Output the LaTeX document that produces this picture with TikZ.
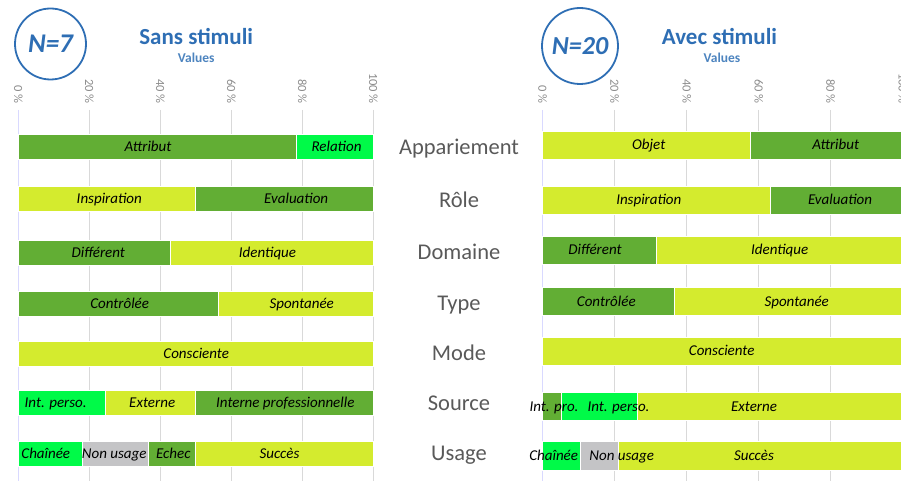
\documentclass[tikz,border=0pt]{standalone}
\usepackage{fontspec}
\setmainfont{Carlito}
\usepackage{tikz}
\usepackage{xcolor}
\definecolor{dkgreen}{RGB}{98,174,52}
\definecolor{lime}{RGB}{212,235,46}
\definecolor{brgreen}{RGB}{0,250,72}
\definecolor{nogrey}{RGB}{196,196,198}
\definecolor{titleblue}{RGB}{46,110,180}
\definecolor{gridgrey}{RGB}{217,217,217}
\definecolor{labelgrey}{RGB}{89,89,89}

\begin{document}
\begin{tikzpicture}[x=1pt,y=-1pt]
  \tikzset{grid/.style={gridgrey,line width=1.3pt}}
  \tikzset{pct/.style={rotate=-90,anchor=east,inner sep=0pt,text=gray!90,font=\fontsize{12.5}{12.5}\selectfont}}
  \tikzset{bar/.style={draw=white,line width=0.8pt}}
  \tikzset{value/.style={inner sep=0pt,text height=9.7pt,text depth=0pt,font=\fontsize{15}{15}\selectfont\itshape}}
  \tikzset{rowname/.style={inner sep=0pt,text height=14.5pt,text depth=0pt,text=labelgrey,font=\fontsize{22.5}{22.5}\selectfont}}
  \tikzset{title/.style={inner sep=0pt,text=titleblue,font=\fontsize{23}{23}\selectfont\bfseries}}
  \tikzset{subtitle/.style={inner sep=0pt,text=titleblue!85,font=\fontsize{13.5}{13.5}\selectfont\bfseries}}
  \tikzset{count/.style={circle,draw=titleblue,line width=1.8pt,inner sep=0pt,text=titleblue,font=\fontsize{27}{27}\selectfont\bfseries\itshape}}
  \useasboundingbox (0,0) rectangle (901,481);

  % headers
  \node[count,minimum size=71pt] (nsans) at (50.5,44) {N=7};
  \node[title] (sans) at (196.2,36.5) {Sans stimuli};
  \node[subtitle] (sansval) at (196.2,58) {Values};
  \node[count,minimum size=76pt,font=\fontsize{26}{26}\selectfont\bfseries\itshape] (navec) at (580,46) {N=20};
  \node[title] (avec) at (719.5,36.5) {Avec stimuli};
  \node[subtitle] (avecval) at (722,58) {Values};

  % left axis
  \draw[grid,draw=blue!15] (18.3,110) -- (18.3,481);
  \draw[grid] (89.3,110) -- (89.3,481);
  \draw[grid] (160.3,110) -- (160.3,481);
  \draw[grid] (231.3,110) -- (231.3,481);
  \draw[grid] (302.3,110) -- (302.3,481);
  \draw[grid] (373.3,110) -- (373.3,481);
  \node[pct] (l0) at (18.3,104) {0 \%};
  \node[pct] (l20) at (89.3,104) {20 \%};
  \node[pct] (l40) at (160.3,104) {40 \%};
  \node[pct] (l60) at (231.3,104) {60 \%};
  \node[pct] (l80) at (302.3,104) {80 \%};
  \node[pct] (l100) at (373.3,104) {100 \%};

  % right axis
  \draw[grid,draw=blue!15] (542.7,110) -- (542.7,481);
  \draw[grid] (614.7,110) -- (614.7,481);
  \draw[grid] (686.7,110) -- (686.7,481);
  \draw[grid] (758.7,110) -- (758.7,481);
  \draw[grid] (830.7,110) -- (830.7,481);
  \draw[grid] (902.7,110) -- (902.7,481);
  \node[pct] (r0) at (542.7,104) {0 \%};
  \node[pct] (r20) at (614.7,104) {20 \%};
  \node[pct] (r40) at (686.7,104) {40 \%};
  \node[pct] (r60) at (758.7,104) {60 \%};
  \node[pct] (r80) at (830.7,104) {80 \%};
  \node[pct] (r100) at (902.7,104) {100 \%};

  % left bars
  \filldraw[bar,fill=dkgreen] (18.3,134.5) rectangle (296.7,159.5);
  \filldraw[bar,fill=brgreen] (296.7,134.5) rectangle (373.3,159.5);
  \filldraw[bar,fill=lime] (18.3,186.5) rectangle (195.7,211.5);
  \filldraw[bar,fill=dkgreen] (195.7,186.5) rectangle (373.3,211.5);
  \filldraw[bar,fill=dkgreen] (18.3,240) rectangle (170,265);
  \filldraw[bar,fill=lime] (170,240) rectangle (373.3,265);
  \filldraw[bar,fill=dkgreen] (18.3,291.5) rectangle (218.3,316.5);
  \filldraw[bar,fill=lime] (218.3,291.5) rectangle (373.3,316.5);
  \filldraw[bar,fill=lime] (18.3,341) rectangle (373.3,366);
  \filldraw[bar,fill=brgreen] (18.3,390.5) rectangle (105.7,415.5);
  \filldraw[bar,fill=lime] (105.7,390.5) rectangle (195.3,415.5);
  \filldraw[bar,fill=dkgreen] (195.3,390.5) rectangle (373.3,415.5);
  \filldraw[bar,fill=brgreen] (18.3,441.5) rectangle (82.3,466.5);
  \filldraw[bar,fill=nogrey] (82.3,441.5) rectangle (148.3,466.5);
  \filldraw[bar,fill=dkgreen] (148.3,441.5) rectangle (195.7,466.5);
  \filldraw[bar,fill=lime] (195.7,441.5) rectangle (373.3,466.5);

  \node[value] (lattribut) at (148,147) {Attribut};
  \node[value] (lrelation) at (336.5,147) {Relation};
  \node[value] (linspiration) at (109.3,199) {Inspiration};
  \node[value] (levaluation) at (296.2,199) {Evaluation};
  \node[value] (ldifferent) at (98.3,252.5) {Différent};
  \node[value] (lidentique) at (267.5,252.5) {Identique};
  \node[value] (lcontrolee) at (119.7,304) {Contrôlée};
  \node[value] (lspontanee) at (301.7,304) {Spontanée};
  \node[value] (lconsciente) at (196.2,353.5) {Consciente};
  \node[value] (lperso) at (55.7,403) {Int. perso.};
  \node[value] (lexterne) at (152.2,403) {Externe};
  \node[value] (linterne) at (285.3,403) {Interne professionnelle};
  \node[value] (lchainee) at (45.8,454) {Chaînée};
  \node[value] (lnonusage) at (114.2,454) {Non usage};
  \node[value] (lechec) at (173.3,454) {Echec};
  \node[value] (lsucces) at (279.5,454) {Succès};

  % right bars
  \filldraw[bar,fill=lime] (542.7,131) rectangle (750.7,159);
  \filldraw[bar,fill=dkgreen] (750.7,131) rectangle (902.7,159);
  \filldraw[bar,fill=lime] (542.7,186.5) rectangle (770.7,214);
  \filldraw[bar,fill=dkgreen] (770.7,186.5) rectangle (902.7,214);
  \filldraw[bar,fill=dkgreen] (542.7,236) rectangle (656,264);
  \filldraw[bar,fill=lime] (656,236) rectangle (902.7,264);
  \filldraw[bar,fill=dkgreen] (542.7,287.5) rectangle (674.3,315.5);
  \filldraw[bar,fill=lime] (674.3,287.5) rectangle (902.7,315.5);
  \filldraw[bar,fill=lime] (542.7,337) rectangle (902.7,365);
  \filldraw[bar,fill=dkgreen] (542.7,392.7) rectangle (561,420.7);
  \filldraw[bar,fill=brgreen] (561,392.7) rectangle (637,420.7);
  \filldraw[bar,fill=lime] (637,392.7) rectangle (902.7,420.7);
  \filldraw[bar,fill=brgreen] (542.7,441.7) rectangle (580.3,470);
  \filldraw[bar,fill=nogrey] (580.3,441.7) rectangle (618.7,470);
  \filldraw[bar,fill=lime] (618.7,441.7) rectangle (902.7,470);

  \node[value] (robjet) at (648.7,145) {Objet};
  \node[value] (rattribut) at (835.7,145) {Attribut};
  \node[value] (rinspiration) at (648.8,200) {Inspiration};
  \node[value] (revaluation) at (840,200) {Evaluation};
  \node[value] (rdifferent) at (595,250) {Différent};
  \node[value] (ridentique) at (779.7,250) {Identique};
  \node[value] (rcontrolee) at (606.3,301.5) {Contrôlée};
  \node[value] (rspontanee) at (796.7,301.5) {Spontanée};
  \node[value] (rconsciente) at (721.7,351) {Consciente};
  \node[value] (rpro) at (554,406.7) {Int. pro.};
  \node[value] (rperso) at (618.5,406.7) {Int. perso.};
  \node[value] (rexterne) at (754,406.7) {Externe};
  \node[value] (rchainee) at (553.7,456) {Chaînée};
  \node[value] (rnonusage) at (621.7,456) {Non usage};
  \node[value] (rsucces) at (754,456) {Succès};

  % row names
  \node[rowname] (appariement) at (459,147) {Appariement};
  \node[rowname] (role) at (459,200) {Rôle};
  \node[rowname] (domaine) at (459,252.7) {Domaine};
  \node[rowname] (type) at (459,303) {Type};
  \node[rowname] (mode) at (459,353) {Mode};
  \node[rowname] (source) at (459,403) {Source};
  \node[rowname] (usage) at (459,453) {Usage};
\end{tikzpicture}
\end{document}
